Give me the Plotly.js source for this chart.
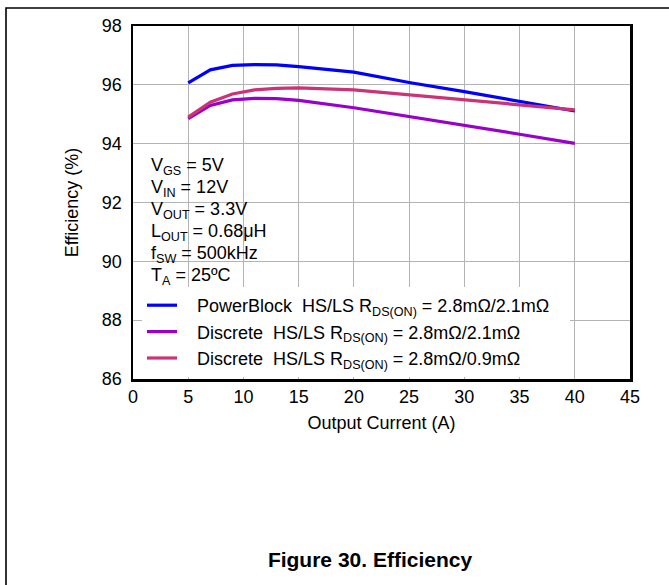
<!DOCTYPE html>
<html>
<head>
<meta charset="utf-8">
<script src="https://cdn.plot.ly/plotly-3.0.1.min.js"></script>
<style>
html,body{margin:0;padding:0;background:#fff;}
#chart{width:669px;height:585px;}
</style>
</head>
<body>
<div id="chart"></div>
<script>
const currentA = [5, 7, 9, 11, 13, 15, 20, 25, 30, 35, 40];
const powerBlock = [96.07, 96.51, 96.66, 96.69, 96.68, 96.62, 96.43, 96.08, 95.77, 95.43, 95.11];
const discrete21 = [94.85, 95.30, 95.49, 95.54, 95.53, 95.47, 95.22, 94.92, 94.64, 94.32, 94.01];
const discrete09 = [94.90, 95.41, 95.69, 95.83, 95.88, 95.90, 95.83, 95.66, 95.49, 95.32, 95.15];
const seriesNames = [
  'PowerBlock  HS/LS R<sub>DS(ON)</sub> = 2.8mΩ/2.1mΩ',
  'Discrete  HS/LS R<sub>DS(ON)</sub> = 2.8mΩ/2.1mΩ',
  'Discrete  HS/LS R<sub>DS(ON)</sub> = 2.8mΩ/0.9mΩ'
];
const conditions = [
  'V<sub>GS</sub> = 5V',
  'V<sub>IN</sub> = 12V',
  'V<sub>OUT</sub> = 3.3V',
  'L<sub>OUT</sub> = 0.68μH',
  'f<sub>SW</sub> = 500kHz',
  'T<sub>A</sub> = 25ºC'
];
const xTicks = [0, 5, 10, 15, 20, 25, 30, 35, 40, 45];
const yTicks = [86, 88, 90, 92, 94, 96, 98];

const colors = ['#0000ff', '#9900cc', '#cc3377'];
const FONT = 'Liberation Sans, Arial, sans-serif';
const PAD = '\u00a0\u00a0\u00a0';

const traces = [powerBlock, discrete21, discrete09].map((ys, i) => ({
  x: currentA, y: ys, type: 'scatter', mode: 'lines',
  name: PAD + seriesNames[i] + (i === 0 ? PAD : ''),
  line: {color: colors[i], width: 3.2}
}));

// plot area in px: left 133, right 630, top 26, bottom 379
const L = 133, R = 630, T = 26, B = 379, W = 669, H = 585;
const px = v => (v - L) / (R - L);
const py = v => (B - v) / (B - T);

const lineY = [166, 188, 210, 232, 254, 276];
const annotations = conditions.map((t, i) => ({
  xref: 'paper', yref: 'paper', x: px(149), y: py(lineY[i]),
  xanchor: 'left', yanchor: 'middle', text: t, showarrow: false,
  font: {family: FONT, size: 18, color: '#000'}
}));

const layout = {
  width: W, height: H,
  margin: {l: L, r: W - R, t: T, b: H - B, pad: 0},
  paper_bgcolor: '#fff', plot_bgcolor: '#fff',
  font: {family: FONT, size: 18, color: '#000'},
  showlegend: true,
  title: {
    text: '<b>Figure 30. Efficiency</b>',
    font: {family: FONT, size: 21, color: '#000'},
    x: 370 / W, xanchor: 'center', xref: 'container',
    y: 1 - 560 / H, yanchor: 'middle', yref: 'container'
  },
  xaxis: {
    range: [0, 45], tickvals: xTicks, ticktext: xTicks.map(String),
    showgrid: true, gridcolor: '#b4b4b4', gridwidth: 1,
    zeroline: false, showline: true, linecolor: '#000', linewidth: 2.5, mirror: true,
    ticks: '', ticklen: 0, tickfont: {family: FONT, size: 18},
    title: {text: 'Output Current (A)', font: {family: FONT, size: 18}, standoff: 11},
    fixedrange: true
  },
  yaxis: {
    range: [86, 98], tickvals: yTicks, ticktext: yTicks.map(String),
    showgrid: true, gridcolor: '#b4b4b4', gridwidth: 1,
    zeroline: false, showline: true, linecolor: '#000', linewidth: 2.5, mirror: true,
    ticks: '', ticklen: 0, tickfont: {family: FONT, size: 18},
    ticklabelstandoff: 5,
    title: {text: 'Efficiency (%)', font: {family: FONT, size: 18}, standoff: 19},
    fixedrange: true
  },
  legend: {
    x: px(142), y: py(377), xanchor: 'left', yanchor: 'bottom',
    bgcolor: '#fff', borderwidth: 0,
    font: {family: FONT, size: 18, color: '#000'},
    traceorder: 'normal', itemwidth: 30
  },
  annotations: annotations,
  shapes: [
    {type: 'rect', xref: 'paper', yref: 'paper', x0: px(134.5), x1: px(276), y0: py(292), y1: py(141.8),
     fillcolor: '#fff', line: {width: 0}, layer: 'between'},
    {type: 'path', xref: 'paper', yref: 'paper',
     path: `M ${px(6)} ${py(600)} L ${px(6)} ${py(8)} L ${px(680)} ${py(8)}`,
     line: {color: '#000', width: 1.6}}
  ]
};

Plotly.newPlot('chart', traces, layout, {displayModeBar: false, staticPlot: true});
</script>
</body>
</html>
